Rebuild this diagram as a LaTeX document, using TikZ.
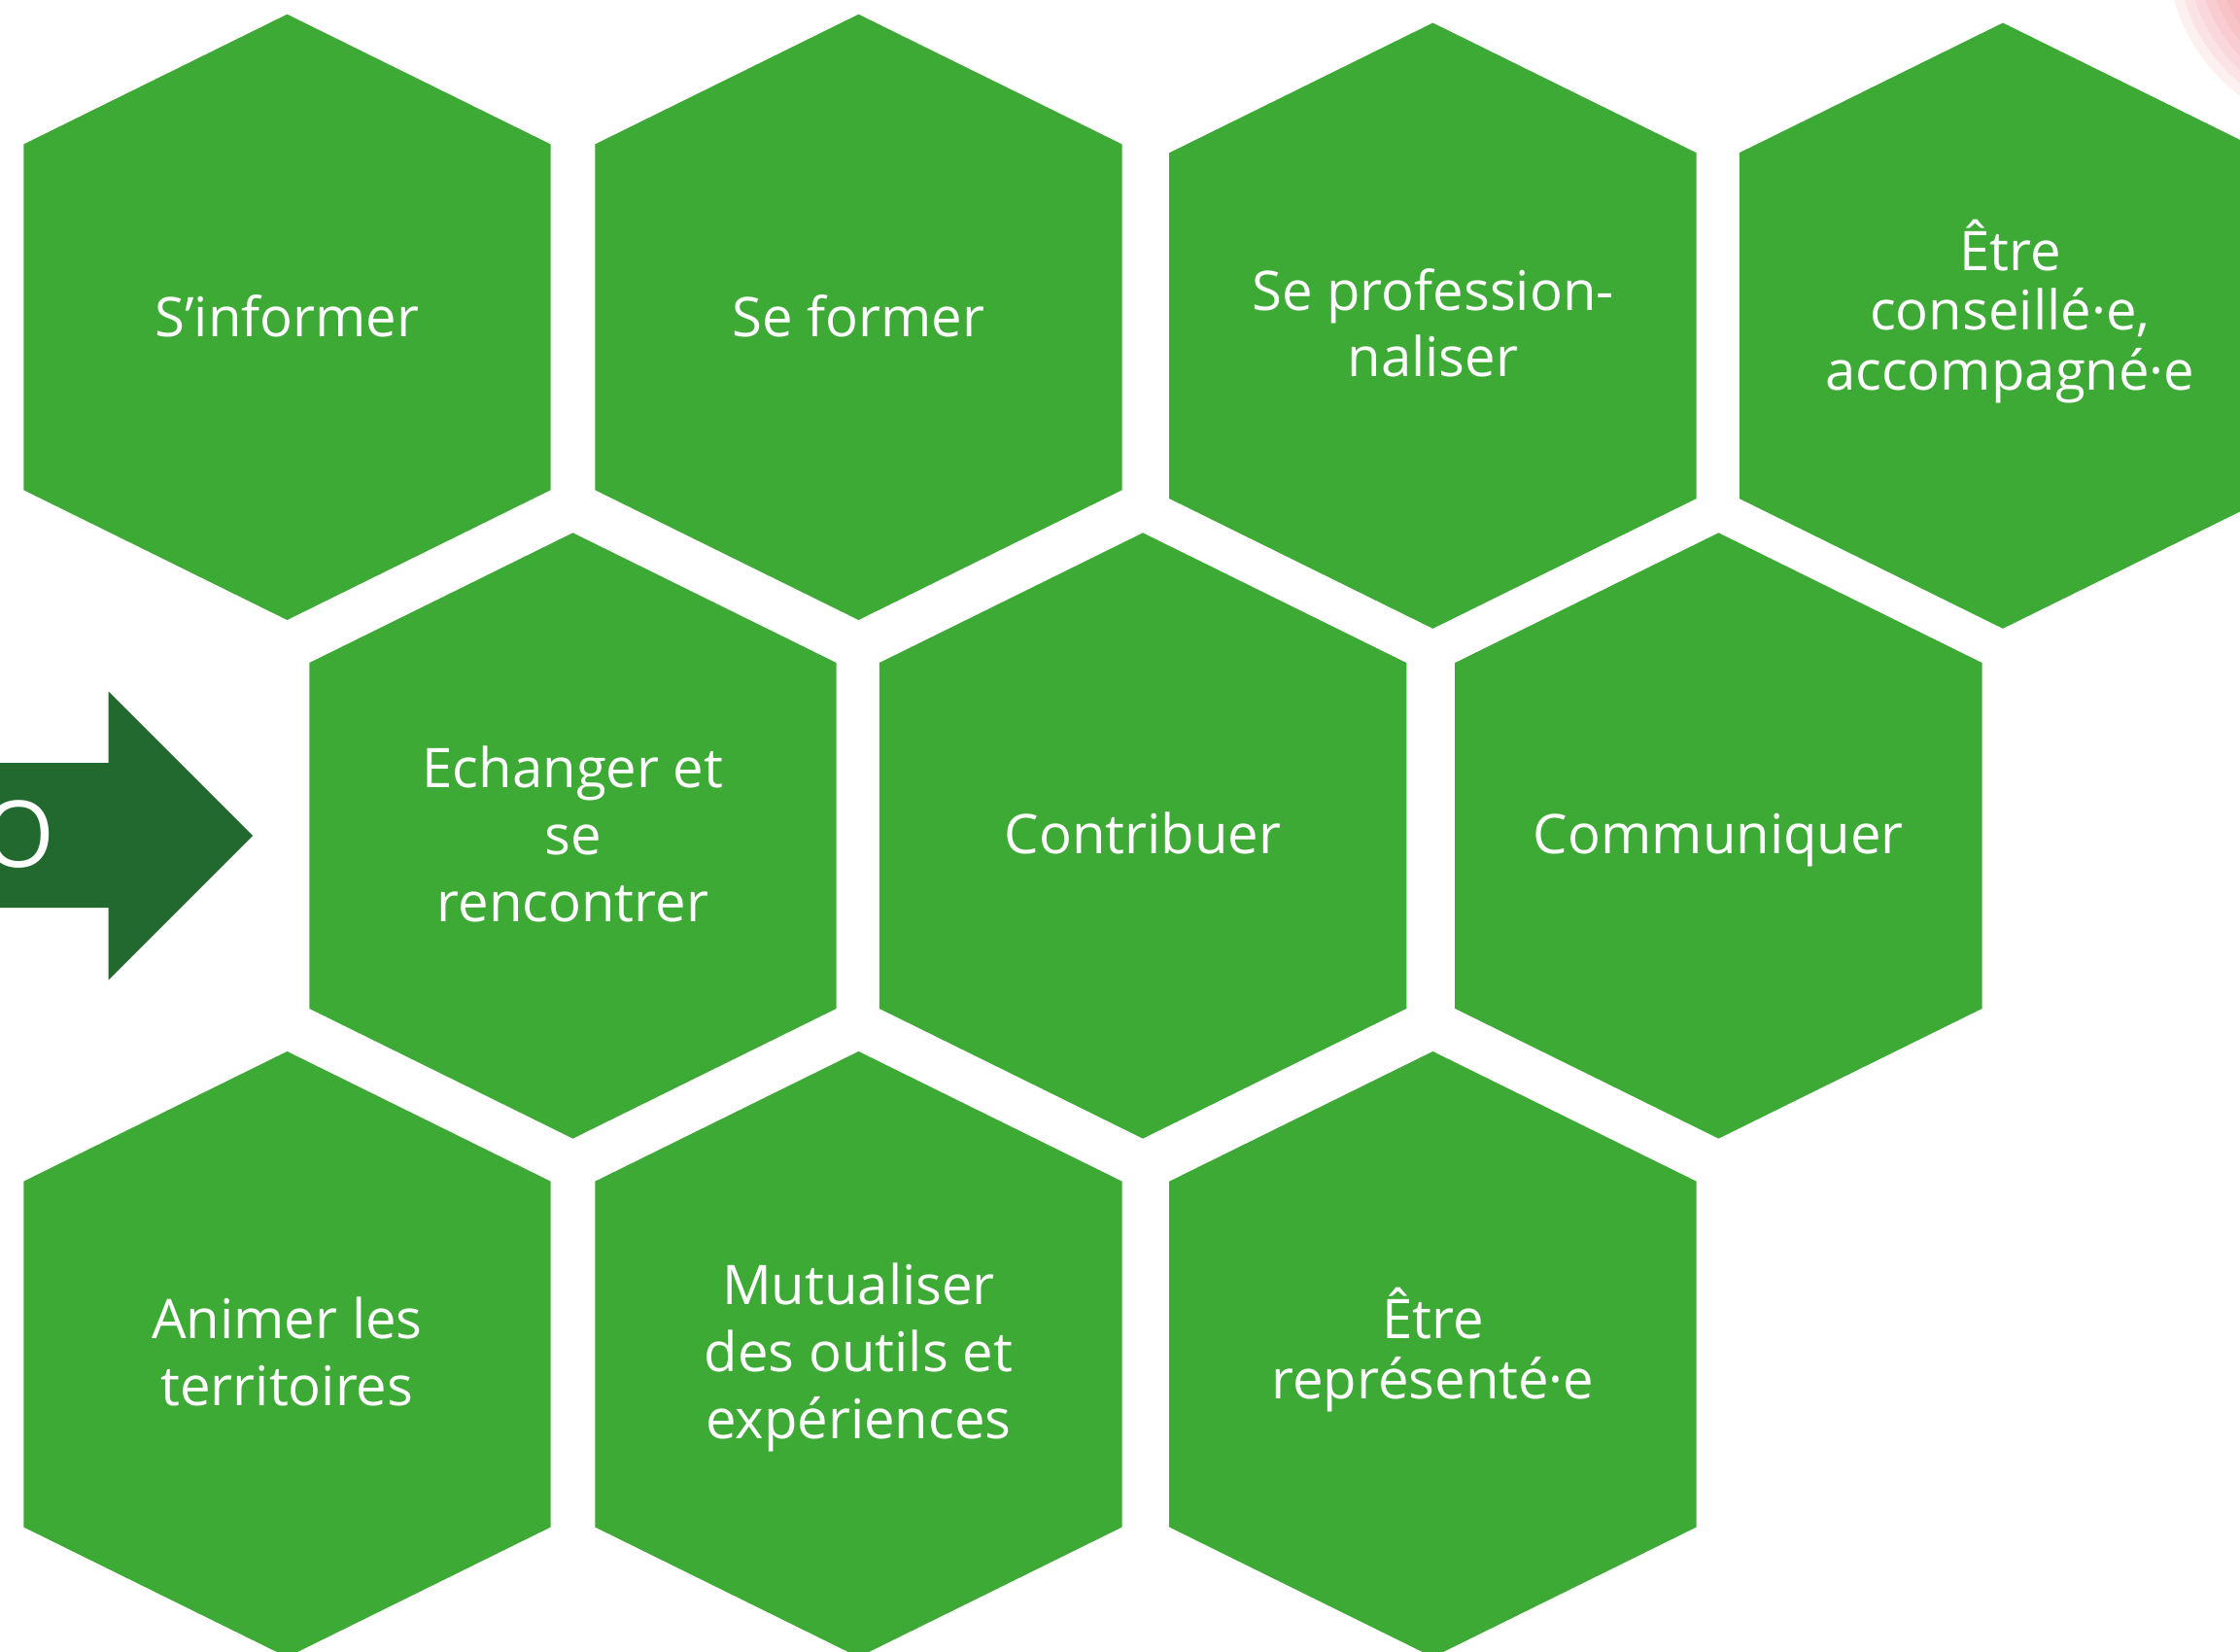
\documentclass[tikz,border=0pt]{standalone}
\usepackage{fontspec}
\setmainfont{Open Sans}
\definecolor{hexgreen}{RGB}{61,170,53}
\definecolor{arrowgreen}{RGB}{34,105,47}
\definecolor{blobpink}{RGB}{235,110,120}
\tikzset{
  hexfill/.style={fill=hexgreen},
  hexa/.pic={\fill[hexfill] (0,-212) -- (184.5,-121) -- (184.5,121) -- (0,212) -- (-184.5,121) -- (-184.5,-121) -- cycle;},
  lbl/.style={text=white, align=center, inner sep=0pt, font=\fontsize{16pt}{19.6pt}\selectfont},
  lbltight/.style={lbl, font=\fontsize{16pt}{17.5pt}\selectfont},
}
\begin{document}
\begin{tikzpicture}[x=0.0147cm, y=-0.0147cm]
\useasboundingbox (0,0) rectangle (1568,1156);
\clip (0,0) rectangle (1568,1156);
% faint pink blob, top right
\foreach \r in {128,121,114,107,100,93}
  \fill[blobpink, opacity=0.10] (1645,-35) circle (\r);
% arrow
\fill[arrowgreen] (-5,534) -- (76,534) -- (76,484) -- (177,585) -- (76,686) -- (76,635.5) -- (-5,635.5) -- cycle;
\node[text=white, inner sep=0pt, anchor=east, font=\fontsize{27pt}{30pt}\selectfont] (o) at (39,584) {O};
% hexagons
\pic at (201,222) {hexa};
\pic at (601,222) {hexa};
\pic at (1003,228) {hexa};
\pic at (1402,228) {hexa};
\pic at (401,585) {hexa};
\pic at (800,585) {hexa};
\pic at (1203,585) {hexa};
\pic at (201,948) {hexa};
\pic at (601,948) {hexa};
\pic at (1003,948) {hexa};
% labels
\node[lbl] (inf) at (201,221) {S’informer};
\node[lbl] (form) at (601,221) {Se former};
\node[lbl] (prof) at (1003,226) {Se profession-\\naliser};
\node[lbltight] (cons) at (1407,218) {Être\\conseillé·e,\\accompagné·e};
\node[lbl] (ech) at (401,584) {Echanger et\\se\\rencontrer};
\node[lbl] (contr) at (800,583) {Contribuer};
\node[lbl] (comm) at (1203,588) {Communiquer};
\node[lbl] (anim) at (201,946) {Animer les\\territoires};
\node[lbl] (mut) at (601,950) {Mutualiser\\des outils et\\expériences};
\node[lbltight] (rep) at (1003,945) {Être\\représenté·e};
\end{tikzpicture}
\end{document}
